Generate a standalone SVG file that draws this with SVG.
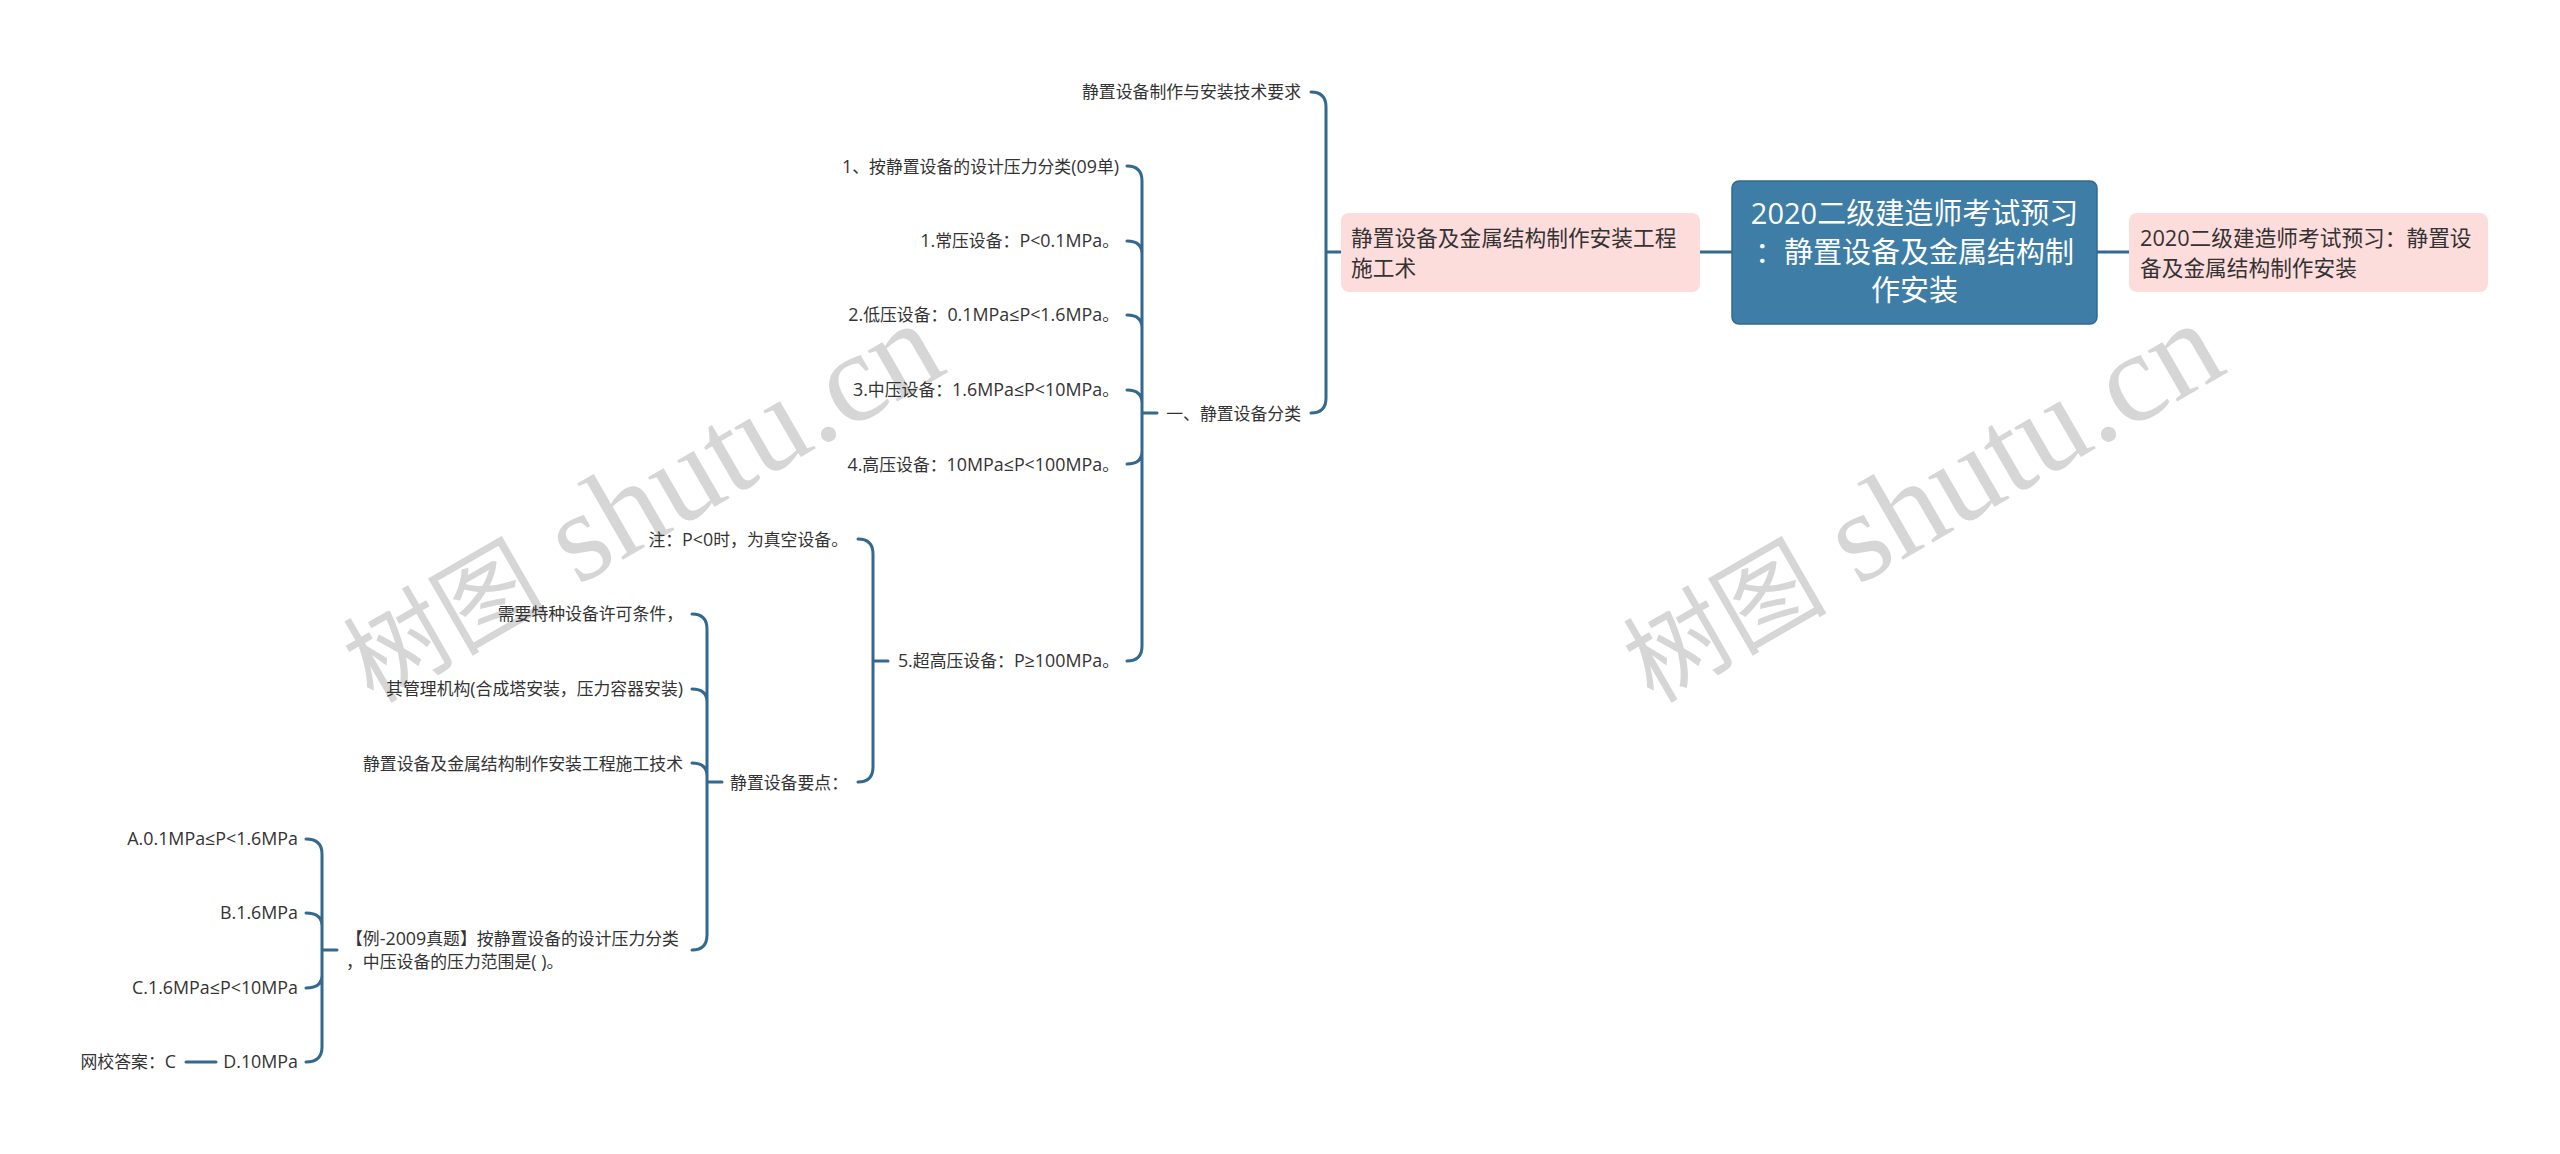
<svg xmlns="http://www.w3.org/2000/svg" width="2560" height="1154" viewBox="0 0 2560 1154">
<style>
text{font-family:"Open Sans","Noto Sans CJK SC","Noto Sans",sans-serif;fill:#333;}
.l{font-size:16.85px;text-anchor:end;}
.s{font-size:16.85px;text-anchor:start;}
.n{font-size:17.85px;}
.p{font-size:21.7px;text-anchor:start;}
.r{font-size:29px;text-anchor:middle;fill:#fff;}
.w{font-family:"Liberation Serif","Noto Sans CJK SC",serif;font-size:128px;fill:#d6d6d6;text-anchor:start;}
.wc{font-size:102px;font-family:"Noto Sans CJK SC",sans-serif;}
.c{fill:none;stroke:#33688f;stroke-width:3;stroke-linecap:round;}
</style>
<rect width="2560" height="1154" fill="#fff"/>
<g id="watermarks">
<text class="w" transform="translate(373 704) rotate(-30)"><tspan class="wc">树图</tspan> shutu.cn</text>
<text class="w" transform="translate(1653 704) rotate(-30)"><tspan class="wc">树图</tspan> shutu.cn</text>
</g>
<g id="connectors">
<path class="c" d="M1700 252H1732M2097 252H2129"/>
<path class="c" d="M1311 92Q1326 92 1326 107V398Q1326 413 1311 413M1326 252H1341"/>
<path class="c" d="M1127 166Q1142 166 1142 181V646Q1142 661 1127 661M1127 241Q1142 241 1142 254M1127 315Q1142 315 1142 328M1127 390Q1142 390 1142 403M1127 464Q1142 464 1142 451M1142 413H1157"/>
<path class="c" d="M858 539Q873 539 873 554V767Q873 782 858 782M873 661H888"/>
<path class="c" d="M692 614Q707 614 707 629V935Q707 950 692 950M692 689Q707 689 707 702M692 763Q707 763 707 776M707 782H722"/>
<path class="c" d="M306 839Q322 839 322 854V1047Q322 1062 306 1062M306 913Q322 913 322 926M306 988Q322 988 322 975M322 950H337"/>
<path class="c" d="M186 1062H216"/>
</g>
<g id="root"><rect x="1732" y="181" width="365" height="143" rx="7" fill="#3d7da6" stroke="#33688f" stroke-width="1.5"/>
<text class="r" x="1914.5" y="224">2020二级建造师考试预习</text><text class="r" x="1914.5" y="263">：静置设备及金属结构制</text><text class="r" x="1914.5" y="301">作安装</text></g>
<g id="n-right"><rect x="2129" y="213" width="359" height="79" rx="8" fill="#fddcdc"/>
<text class="p" x="2140" y="246">2020二级建造师考试预习：静置设</text><text class="p" x="2140" y="276">备及金属结构制作安装</text></g>
<g id="n-main"><rect x="1341" y="213" width="359" height="79" rx="8" fill="#fddcdc"/>
<text class="p" x="1351" y="246">静置设备及金属结构制作安装工程</text><text class="p" x="1351" y="276">施工术</text></g>
<g id="n1"><text class="l" x="1301" y="98">静置设备制作与安装技术要求</text></g>
<g id="n2"><text class="l" x="1301" y="420">一、静置设备分类</text></g>
<g id="n3"><text class="l" x="1119" y="173"><tspan class="n">1</tspan>、按静置设备的设计压力分类<tspan class="n">(09</tspan>单<tspan class="n">)</tspan></text></g>
<g id="n4"><text class="l" x="1119" y="247"><tspan class="n">1.</tspan>常压设备：<tspan class="n">P&lt;0.1MPa</tspan>。</text></g>
<g id="n5"><text class="l" x="1119" y="321"><tspan class="n">2.</tspan>低压设备：<tspan class="n">0.1MPa≤P&lt;1.6MPa</tspan>。</text></g>
<g id="n6"><text class="l" x="1119" y="396"><tspan class="n">3.</tspan>中压设备：<tspan class="n">1.6MPa≤P&lt;10MPa</tspan>。</text></g>
<g id="n7"><text class="l" x="1119" y="471"><tspan class="n">4.</tspan>高压设备：<tspan class="n">10MPa≤P&lt;100MPa</tspan>。</text></g>
<g id="n8"><text class="l" x="1119" y="667"><tspan class="n">5.</tspan>超高压设备：<tspan class="n">P≥100MPa</tspan>。</text></g>
<g id="n9"><text class="l" x="848" y="546">注：<tspan class="n">P&lt;0</tspan>时，为真空设备。</text></g>
<g id="n10"><text class="l" x="848" y="789">静置设备要点：</text></g>
<g id="n11"><text class="l" x="683" y="620">需要特种设备许可条件，</text></g>
<g id="n12"><text class="l" x="683" y="695">其管理机构<tspan class="n">(</tspan>合成塔安装，压力容器安装<tspan class="n">)</tspan></text></g>
<g id="n13"><text class="l" x="683" y="770">静置设备及金属结构制作安装工程施工技术</text></g>
<g id="n14"><text class="s" x="346" y="945">【例<tspan class="n">-2009</tspan>真题】按静置设备的设计压力分类</text><text class="s" x="346" y="968">，中压设备的压力范围是<tspan class="n">( )</tspan>。</text></g>
<g id="n15"><text class="l n" x="298" y="845">A.0.1MPa≤P&lt;1.6MPa</text></g>
<g id="n16"><text class="l n" x="298" y="919">B.1.6MPa</text></g>
<g id="n17"><text class="l n" x="298" y="994">C.1.6MPa≤P&lt;10MPa</text></g>
<g id="n18"><text class="l n" x="298" y="1068">D.10MPa</text></g>
<g id="n19"><text class="l" x="176" y="1068">网校答案：<tspan class="n">C</tspan></text></g>
</svg>
